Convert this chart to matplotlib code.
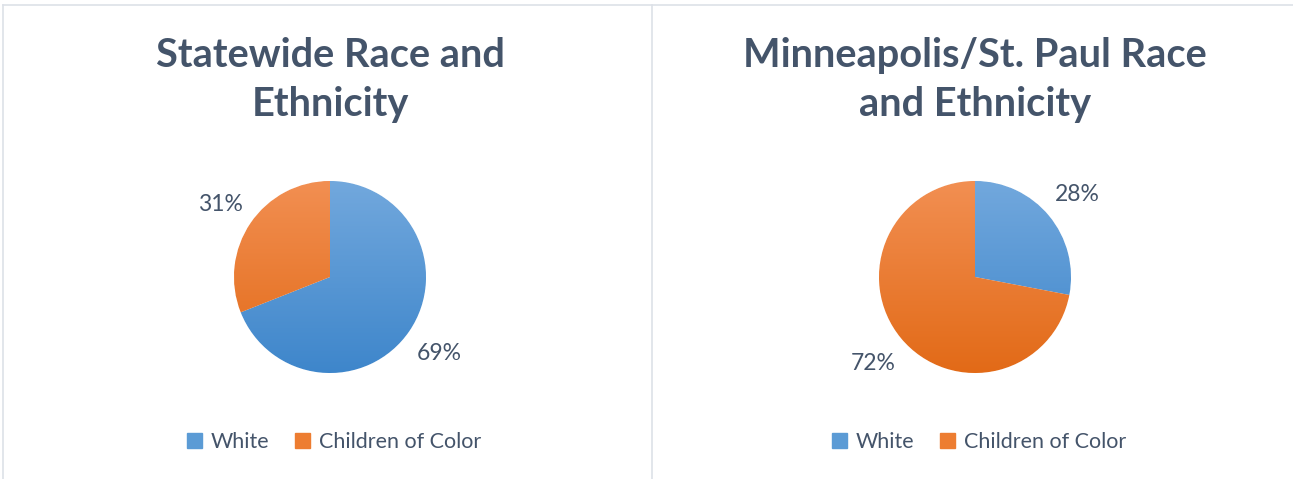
import numpy as np
import matplotlib.pyplot as plt
from matplotlib.colors import LinearSegmentedColormap
from matplotlib.patches import Rectangle
from matplotlib.lines import Line2D

plt.rcParams['font.family'] = ['Lato', 'DejaVu Sans']

# data
categories = ['White', 'Children of Color']
titles = ['Statewide Race and\nEthnicity', 'Minneapolis/St. Paul Race\nand Ethnicity']
statewide = [69, 31]
metro = [28, 72]

text_col = '#44546a'
# top / bottom colours of the gradient fill
grad = {
    'White': ('#72a8dd', '#3e86cb'),
    'Children of Color': ('#f28f52', '#e26a17'),
}
solid = {'White': '#5b9bd5', 'Children of Color': '#ed7d31'}

W, H = 1293, 479
fig = plt.figure(figsize=(W / 100, H / 100), dpi=100)
fig.patch.set_facecolor('white')

# panel frames
border = '#dde1e8'
fig.add_artist(Line2D([3 / W, 1], [1 - 5 / H, 1 - 5 / H], color=border, lw=1.2))
fig.add_artist(Line2D([3 / W, 3 / W], [0, 1 - 5 / H], color=border, lw=1.2))
fig.add_artist(Line2D([652 / W, 652 / W], [0, 1 - 5 / H], color=border, lw=1.2))

centers = [330, 975]
r = 96
cy = 277

for cx, title, vals in zip(centers, titles, [statewide, metro]):
    ax = fig.add_axes([(cx - r) / W, (H - cy - r) / H, 2 * r / W, 2 * r / H])
    wedges, texts = ax.pie(vals, startangle=90, counterclock=False, radius=1,
                           colors=[solid[c] for c in categories],
                           labels=[f'{v}%' for v in vals], labeldistance=1.38,
                           wedgeprops=dict(edgecolor='white', linewidth=0.8),
                           textprops=dict(color=text_col, fontsize=16.5))
    for t in texts:
        t.set_ha('center')
        t.set_va('center_baseline')
    for w, c in zip(wedges, categories):
        cmap = LinearSegmentedColormap.from_list('g', [grad[c][1], grad[c][0]])
        im = ax.imshow(np.linspace(0, 1, 256).reshape(-1, 1), cmap=cmap, origin='lower',
                       extent=(-1, 1, -1, 1), aspect='auto', zorder=w.get_zorder() + 0.1)
        im.set_clip_path(w)
    ax.set_xlim(-1, 1)
    ax.set_ylim(-1, 1)
    ax.set_aspect('equal')
    ax.axis('off')

    fig.text(cx / W, 1 - 80 / H, title, ha='center', va='center', fontsize=28.6,
             fontweight='bold', color=text_col, linespacing=1.42)

    handles = [Rectangle((0, 0), 1, 1, color=solid[c]) for c in categories]
    fig.legend(handles, categories, loc='center', bbox_to_anchor=((cx + 4) / W, 1 - 442 / H),
               ncol=2, frameon=False, fontsize=15.5, labelcolor=text_col,
               handlelength=0.7, handleheight=0.7, handletextpad=0.4, columnspacing=1.2)

fig.savefig('out.png', dpi=100, facecolor='white')
